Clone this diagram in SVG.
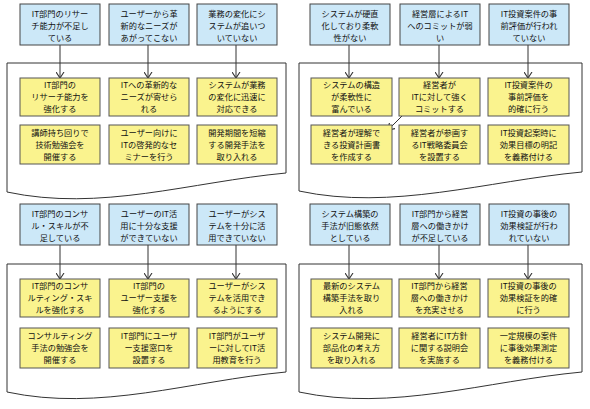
<svg xmlns="http://www.w3.org/2000/svg" width="590" height="409" viewBox="0 0 590 409">
<style>
.bg{fill:#fff}
.fr{fill:#fff;stroke:#333;stroke-width:1}
.h{fill:#CCE8F8;stroke:#444;stroke-width:1}
.y{fill:#FAF38E;stroke:#555;stroke-width:1}
text{font-family:"Noto Sans CJK JP","Noto Sans",sans-serif;font-size:8.2px;text-anchor:middle;fill:#111}
.c{stroke:#333;stroke-width:1;fill:none;marker-end:url(#a)}
</style>
<defs>
<marker id="a" viewBox="0 0 6 9" refX="6" refY="4.5" markerWidth="6" markerHeight="9" markerUnits="userSpaceOnUse" orient="auto">
<path d="M0,0.5 L6,4.5 L0,8.5" fill="none" stroke="#333" stroke-width="1.1"/>
</marker>
</defs>
<rect class="bg" width="590" height="409"/>
<g id="frames">
<path class="fr" d="M7,63 H286 V173 C190,182 100,212 7,192 Z"/>
<path class="fr" d="M299,63 H582 V172 C486,181 392,211 299,191 Z"/>
<path class="fr" d="M7,264 H286 V372 C190,381 100,412 7,392 Z"/>
<path class="fr" d="M299,264 H582 V372 C486,381 392,412 299,392 Z"/>
</g>
<g id="connectors">
<path class="c" d="M60,45 V78"/>
<path class="c" d="M148,45 V78"/>
<path class="c" d="M236,45 V78"/>
<path class="c" d="M349,45 V78"/>
<path class="c" d="M439,45 V78"/>
<path class="c" d="M528,45 V78"/>
<path class="c" d="M405,113 L388,130"/>
<path class="c" d="M60,245 V279"/>
<path class="c" d="M148,245 V279"/>
<path class="c" d="M236,245 V279"/>
<path class="c" d="M349,245 V279"/>
<path class="c" d="M439,245 V279"/>
<path class="c" d="M528,245 V279"/>
</g>

<g id="h11"><rect class="h" x="20" y="4" width="80" height="41"/><text x="60" y="17.1"><tspan x="60">IT部門のリサー</tspan><tspan x="60" dy="12">チ能力が不足し</tspan><tspan x="60" dy="12">ている</tspan></text></g>
<g id="h12"><rect class="h" x="109" y="4" width="80" height="41"/><text x="149" y="17.1"><tspan x="149">ユーザーから革</tspan><tspan x="149" dy="12">新的なニーズが</tspan><tspan x="149" dy="12">あがってこない</tspan></text></g>
<g id="h13"><rect class="h" x="197" y="4" width="80" height="41"/><text x="237" y="17.1"><tspan x="237">業務の変化にシ</tspan><tspan x="237" dy="12">ステムが追いつ</tspan><tspan x="237" dy="12">いていない</tspan></text></g>
<g id="y11a"><rect class="y" x="20" y="78" width="80" height="38"/><text x="60" y="88.1"><tspan x="60">IT部門の</tspan><tspan x="60" dy="12">リサーチ能力を</tspan><tspan x="60" dy="12">強化する</tspan></text></g>
<g id="y12a"><rect class="y" x="109" y="78" width="80" height="38"/><text x="149" y="88.1"><tspan x="149">ITへの革新的な</tspan><tspan x="149" dy="12">ニーズが寄せら</tspan><tspan x="149" dy="12">れる</tspan></text></g>
<g id="y13a"><rect class="y" x="197" y="78" width="80" height="38"/><text x="237" y="88.1"><tspan x="237">システムが業務</tspan><tspan x="237" dy="12">の変化に迅速に</tspan><tspan x="237" dy="12">対応できる</tspan></text></g>
<g id="y11b"><rect class="y" x="20" y="125" width="80" height="39"/><text x="60" y="135.6"><tspan x="60">講師持ち回りで</tspan><tspan x="60" dy="12">技術勉強会を</tspan><tspan x="60" dy="12">開催する</tspan></text></g>
<g id="y12b"><rect class="y" x="109" y="125" width="80" height="39"/><text x="149" y="135.6"><tspan x="149">ユーザー向けに</tspan><tspan x="149" dy="12">ITの啓発的なセ</tspan><tspan x="149" dy="12">ミナーを行う</tspan></text></g>
<g id="y13b"><rect class="y" x="197" y="125" width="80" height="39"/><text x="237" y="135.6"><tspan x="237">開発期間を短縮</tspan><tspan x="237" dy="12">する開発手法を</tspan><tspan x="237" dy="12">取り入れる</tspan></text></g>

<g id="h21"><rect class="h" x="310" y="4" width="80" height="41"/><text x="350" y="17.1"><tspan x="350">システムが硬直</tspan><tspan x="350" dy="12">化しており柔軟</tspan><tspan x="350" dy="12">性がない</tspan></text></g>
<g id="h22"><rect class="h" x="400" y="4" width="80" height="41"/><text x="440" y="17.1"><tspan x="440">経営層によるIT</tspan><tspan x="440" dy="12">へのコミットが弱</tspan><tspan x="440" dy="12">い</tspan></text></g>
<g id="h23"><rect class="h" x="489" y="4" width="80" height="41"/><text x="529" y="17.1"><tspan x="529">IT投資案件の事</tspan><tspan x="529" dy="12">前評価が行われ</tspan><tspan x="529" dy="12">ていない</tspan></text></g>
<g id="y21a"><rect class="y" x="311" y="78" width="81" height="38"/><text x="351.5" y="88.1"><tspan x="351.5">システムの構造</tspan><tspan x="351.5" dy="12">が柔軟性に</tspan><tspan x="351.5" dy="12">富んでいる</tspan></text></g>
<g id="y22a"><rect class="y" x="399" y="78" width="81" height="38"/><text x="439.5" y="88.1"><tspan x="439.5">経営者が</tspan><tspan x="439.5" dy="12">ITに対して強く</tspan><tspan x="439.5" dy="12">コミットする</tspan></text></g>
<g id="y23a"><rect class="y" x="488" y="78" width="81" height="38"/><text x="528.5" y="88.1"><tspan x="528.5">IT投資案件の</tspan><tspan x="528.5" dy="12">事前評価を</tspan><tspan x="528.5" dy="12">的確に行う</tspan></text></g>
<g id="y21b"><rect class="y" x="311" y="125" width="81" height="39"/><text x="351.5" y="135.6"><tspan x="351.5">経営者が理解で</tspan><tspan x="351.5" dy="12">きる投資計画書</tspan><tspan x="351.5" dy="12">を作成する</tspan></text></g>
<g id="y22b"><rect class="y" x="399" y="125" width="81" height="39"/><text x="439.5" y="135.6"><tspan x="439.5">経営者が参画す</tspan><tspan x="439.5" dy="12">るIT戦略委員会</tspan><tspan x="439.5" dy="12">を設置する</tspan></text></g>
<g id="y23b"><rect class="y" x="488" y="125" width="81" height="39"/><text x="528.5" y="135.6"><tspan x="528.5">IT投資起案時に</tspan><tspan x="528.5" dy="12">効果目標の明記</tspan><tspan x="528.5" dy="12">を義務付ける</tspan></text></g>

<g id="h31"><rect class="h" x="20" y="204" width="80" height="41"/><text x="60" y="217.1"><tspan x="60">IT部門のコンサ</tspan><tspan x="60" dy="12">ル・スキルが不</tspan><tspan x="60" dy="12">足している</tspan></text></g>
<g id="h32"><rect class="h" x="109" y="204" width="80" height="41"/><text x="149" y="217.1"><tspan x="149">ユーザーのIT活</tspan><tspan x="149" dy="12">用に十分な支援</tspan><tspan x="149" dy="12">ができていない</tspan></text></g>
<g id="h33"><rect class="h" x="197" y="204" width="80" height="41"/><text x="237" y="217.1"><tspan x="237">ユーザーがシス</tspan><tspan x="237" dy="12">テムを十分に活</tspan><tspan x="237" dy="12">用できていない</tspan></text></g>
<g id="y31a"><rect class="y" x="20" y="279" width="80" height="38"/><text x="60" y="289.1"><tspan x="60">IT部門のコンサ</tspan><tspan x="60" dy="12">ルティング・スキ</tspan><tspan x="60" dy="12">ルを強化する</tspan></text></g>
<g id="y32a"><rect class="y" x="109" y="279" width="80" height="38"/><text x="149" y="289.1"><tspan x="149">IT部門の</tspan><tspan x="149" dy="12">ユーザー支援を</tspan><tspan x="149" dy="12">強化する</tspan></text></g>
<g id="y33a"><rect class="y" x="197" y="279" width="80" height="38"/><text x="237" y="289.1"><tspan x="237">ユーザーがシス</tspan><tspan x="237" dy="12">テムを活用でき</tspan><tspan x="237" dy="12">るようにする</tspan></text></g>
<g id="y31b"><rect class="y" x="20" y="328" width="80" height="40"/><text x="60" y="339.1"><tspan x="60">コンサルティング</tspan><tspan x="60" dy="12">手法の勉強会を</tspan><tspan x="60" dy="12">開催する</tspan></text></g>
<g id="y32b"><rect class="y" x="109" y="328" width="80" height="40"/><text x="149" y="339.1"><tspan x="149">IT部門にユーザ</tspan><tspan x="149" dy="12">ー支援窓口を</tspan><tspan x="149" dy="12">設置する</tspan></text></g>
<g id="y33b"><rect class="y" x="197" y="328" width="80" height="40"/><text x="237" y="339.1"><tspan x="237">IT部門がユーザ</tspan><tspan x="237" dy="12">ーに対してIT活</tspan><tspan x="237" dy="12">用教育を行う</tspan></text></g>

<g id="h41"><rect class="h" x="310" y="204" width="80" height="41"/><text x="350" y="217.1"><tspan x="350">システム構築の</tspan><tspan x="350" dy="12">手法が旧態依然</tspan><tspan x="350" dy="12">としている</tspan></text></g>
<g id="h42"><rect class="h" x="400" y="204" width="80" height="41"/><text x="440" y="217.1"><tspan x="440">IT部門から経営</tspan><tspan x="440" dy="12">層への働きかけ</tspan><tspan x="440" dy="12">が不足している</tspan></text></g>
<g id="h43"><rect class="h" x="489" y="204" width="80" height="41"/><text x="529" y="217.1"><tspan x="529">IT投資の事後の</tspan><tspan x="529" dy="12">効果検証が行わ</tspan><tspan x="529" dy="12">れていない</tspan></text></g>
<g id="y41a"><rect class="y" x="311" y="279" width="81" height="38"/><text x="351.5" y="289.1"><tspan x="351.5">最新のシステム</tspan><tspan x="351.5" dy="12">構築手法を取り</tspan><tspan x="351.5" dy="12">入れる</tspan></text></g>
<g id="y42a"><rect class="y" x="399" y="279" width="81" height="38"/><text x="439.5" y="289.1"><tspan x="439.5">IT部門から経営</tspan><tspan x="439.5" dy="12">層への働きかけ</tspan><tspan x="439.5" dy="12">を充実させる</tspan></text></g>
<g id="y43a"><rect class="y" x="488" y="279" width="81" height="38"/><text x="528.5" y="289.1"><tspan x="528.5">IT投資の事後の</tspan><tspan x="528.5" dy="12">効果検証を的確</tspan><tspan x="528.5" dy="12">に行う</tspan></text></g>
<g id="y41b"><rect class="y" x="311" y="328" width="81" height="40"/><text x="351.5" y="339.1"><tspan x="351.5">システム開発に</tspan><tspan x="351.5" dy="12">部品化の考え方</tspan><tspan x="351.5" dy="12">を取り入れる</tspan></text></g>
<g id="y42b"><rect class="y" x="399" y="328" width="81" height="40"/><text x="439.5" y="339.1"><tspan x="439.5">経営者にIT方針</tspan><tspan x="439.5" dy="12">に関する説明会</tspan><tspan x="439.5" dy="12">を実施する</tspan></text></g>
<g id="y43b"><rect class="y" x="488" y="328" width="81" height="40"/><text x="528.5" y="339.1"><tspan x="528.5">一定規模の案件</tspan><tspan x="528.5" dy="12">に事後効果測定</tspan><tspan x="528.5" dy="12">を義務付ける</tspan></text></g>
</svg>
